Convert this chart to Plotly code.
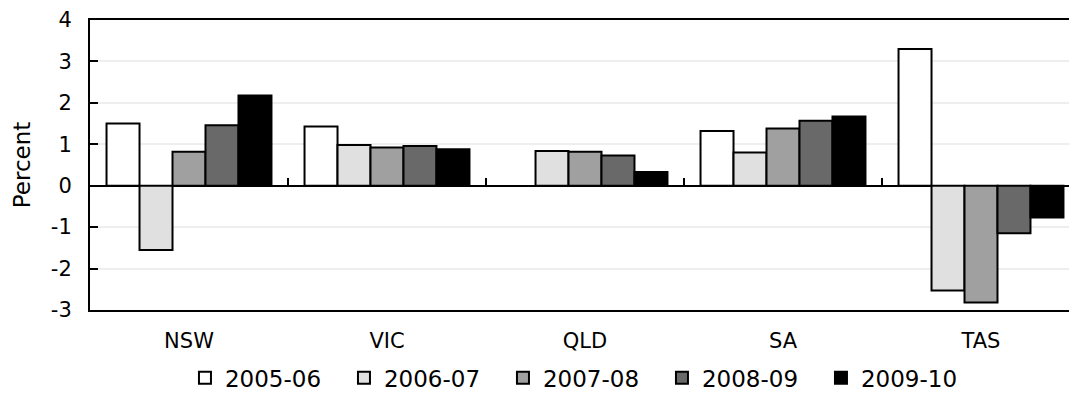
import plotly.graph_objects as go

states = ["NSW", "VIC", "QLD", "SA", "TAS"]
years = ["2005-06", "2006-07", "2007-08", "2008-09", "2009-10"]
v_2005_06 = [1.50, 1.43, None, 1.32, 3.30]
v_2006_07 = [-1.55, 0.98, 0.84, 0.80, -2.53]
v_2007_08 = [0.82, 0.92, 0.82, 1.38, -2.82]
v_2008_09 = [1.46, 0.96, 0.73, 1.57, -1.15]
v_2009_10 = [2.18, 0.88, 0.33, 1.67, -0.77]
series = [v_2005_06, v_2006_07, v_2007_08, v_2008_09, v_2009_10]
colors = ["#ffffff", "#e0e0e0", "#a0a0a0", "#696969", "#000000"]
y_ticks = [-3, -2, -1, 0, 1, 2, 3, 4]
y_ticktext = [str(t) for t in y_ticks]

FONT = "DejaVu Sans"

fig = go.Figure()
for name, vals, col in zip(years, series, colors):
    fig.add_trace(go.Bar(
        x=states, y=vals, name=name,
        marker=dict(color=col, line=dict(color="#000000", width=2)),
    ))

# invisible trace to hold category-boundary ticks on the zero line
fig.add_trace(go.Scatter(x=[0, 4], y=[0, 0], xaxis="x2", mode="none",
                         showlegend=False, hoverinfo="skip"))

n = len(states)
xr = [-0.5, -0.5 + 979 / 198]
fig.update_layout(
    width=1069, height=394,
    margin=dict(l=90, r=0, t=20, b=84, autoexpand=False),
    paper_bgcolor="white", plot_bgcolor="white",
    font=dict(family=FONT, size=21, color="#000000"),
    barmode="group", bargap=0.167, bargroupgap=0,
    xaxis=dict(
        range=xr, showline=True, linecolor="#000000", linewidth=2, mirror=True,
        ticks="", showgrid=False, tickfont=dict(size=21), ticklabelstandoff=11,
    ),
    xaxis2=dict(
        overlaying="x", anchor="free", position=3 / 7, side="bottom",
        range=xr, tickmode="array", tickvals=[i + 0.5 for i in range(n - 1)],
        ticks="inside", ticklen=8, tickwidth=2, tickcolor="#000000",
        showticklabels=False, showline=False, showgrid=False, zeroline=False,
    ),
    yaxis=dict(
        range=[-3, 4], tickmode="array", tickvals=y_ticks, ticktext=y_ticktext,
        showline=True, linecolor="#000000", linewidth=2,
        ticks="inside", ticklen=8, tickwidth=2, tickcolor="#000000",
        showgrid=True, gridcolor="#eeeeee", gridwidth=2,
        zeroline=True, zerolinecolor="#000000", zerolinewidth=2,
        tickfont=dict(size=21), ticklabelstandoff=12,
        title=dict(text="Percent", font=dict(size=23), standoff=14),
    ),
    legend=dict(
        orientation="h", x=0.097, xanchor="left", y=-0.16, yanchor="top",
        font=dict(size=23), traceorder="normal", itemwidth=30,
        entrywidth=114,
    ),
)

fig.write_html("out.html")
